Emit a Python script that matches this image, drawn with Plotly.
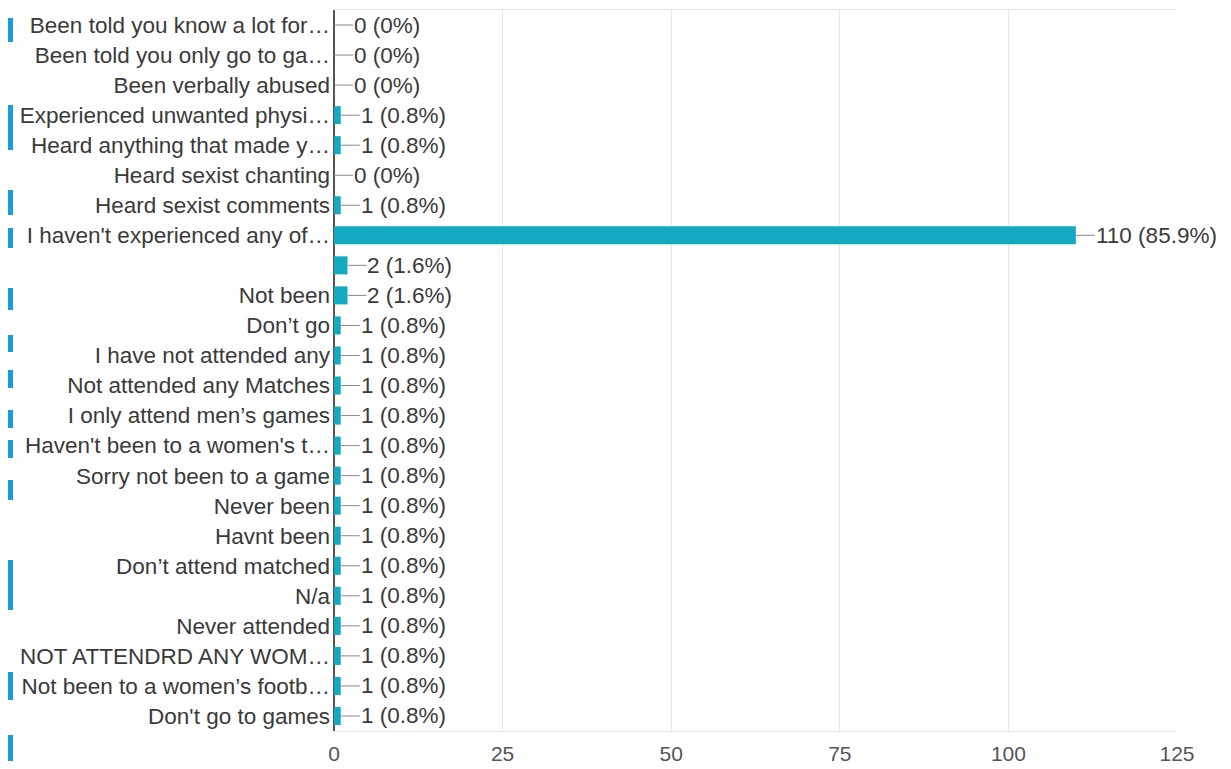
import plotly.graph_objects as go

categories = [
    "Been told you know a lot for…",
    "Been told you only go to ga…",
    "Been verbally abused",
    "Experienced unwanted physi…",
    "Heard anything that made y…",
    "Heard sexist chanting",
    "Heard sexist comments",
    "I haven't experienced any of…",
    "",
    "Not been",
    "Don’t go",
    "I have not attended any",
    "Not attended any Matches",
    "I only attend men’s games",
    "Haven't been to a women's t…",
    "Sorry not been to a game",
    "Never been",
    "Havnt been",
    "Don’t attend matched",
    "N/a",
    "Never attended",
    "NOT ATTENDRD ANY WOM…",
    "Not been to a women’s footb…",
    "Don't go to games",
]
counts = [0, 0, 0, 1, 1, 0, 1, 110, 2, 2, 1, 1, 1, 1, 1, 1, 1, 1, 1, 1, 1, 1, 1, 1]
percents = ["0%", "0%", "0%", "0.8%", "0.8%", "0%", "0.8%", "85.9%", "1.6%", "1.6%",
            "0.8%", "0.8%", "0.8%", "0.8%", "0.8%", "0.8%", "0.8%", "0.8%", "0.8%",
            "0.8%", "0.8%", "0.8%", "0.8%", "0.8%"]
x_ticks = [0, 25, 50, 75, 100, 125]

positions = list(range(len(categories)))
font = "Liberation Sans, Arial, sans-serif"
FS = 22.5

W, H = 1223, 761
ML, MR, MT, MB = 326, 54, 2, 38

fig = go.Figure()
fig.add_trace(go.Bar(
    y=positions, x=counts, orientation="h",
    marker=dict(color="#12a9c1", line=dict(width=0)),
    hoverinfo="skip",
))

annotations = []
for p, c, pc in zip(positions, counts, percents):
    annotations.append(dict(
        x=c, y=p, xref="x", yref="y",
        text=f"{c} ({pc})",
        showarrow=True, arrowhead=0, arrowwidth=1, arrowcolor="#888888",
        ax=19, ay=0, xanchor="left", standoff=0, startstandoff=0,
        borderpad=0,
        font=dict(family=font, size=FS, color="#3a3a3a"),
    ))

# decorative blue marks on the far left edge (screenshot artifacts), in screen pixels
deco_px = [(18, 42), (105, 150), (190, 215), (228, 248), (288, 310), (335, 352),
           (370, 388), (410, 428), (440, 458), (480, 500), (560, 610), (672, 700),
           (735, 761)]
pw = W - ML - MR
ph = H - MT - MB
shapes = []
for y0, y1 in deco_px:
    fy0, fy1 = y0 - 8, y1 - 8
    shapes.append(dict(type="rect", xref="paper", yref="paper",
                       x0=(0 - ML) / pw, x1=(5 - ML) / pw,
                       y0=1 - (fy1 - MT) / ph, y1=1 - (fy0 - MT) / ph,
                       fillcolor="#1a9be0", line=dict(width=0), layer="above"))

fig.update_layout(
    width=W, height=H,
    margin=dict(l=ML, r=MR, t=MT, b=MB, autoexpand=False),
    paper_bgcolor="white", plot_bgcolor="white",
    showlegend=False, bargap=0.4,
    annotations=annotations,
    shapes=shapes,
    font=dict(family=font, size=FS, color="#3a3a3a"),
    xaxis=dict(
        range=[0, 125], tickvals=x_ticks, showgrid=True, gridcolor="#e6e6e6",
        gridwidth=1, zeroline=True, zerolinecolor="#555555", zerolinewidth=2,
        showline=True, linecolor="#e6e6e6", mirror=True,
        tickfont=dict(family=font, size=21, color="#555555"), ticks="",
        ticklabelstandoff=4,
        fixedrange=True, automargin=False,
    ),
    yaxis=dict(
        range=[len(categories) - 0.5, -0.5], tickvals=positions, ticktext=categories,
        showgrid=False, zeroline=False, showline=False, ticks="",
        tickfont=dict(family=font, size=FS, color="#3a3a3a"),
        ticklabelstandoff=3, fixedrange=True, automargin=False,
    ),
)

fig.write_html("out.html")
